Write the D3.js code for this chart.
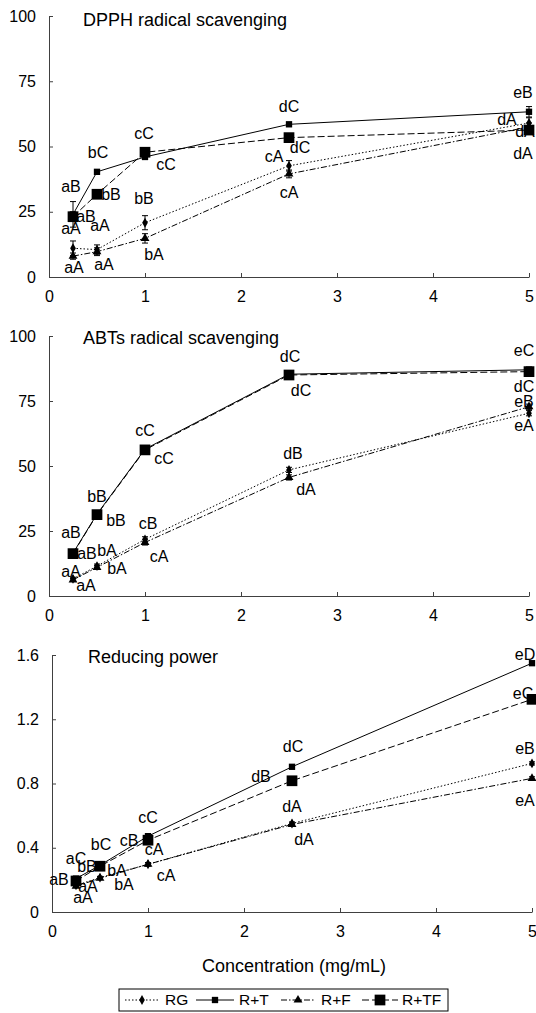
<!DOCTYPE html>
<html>
<head>
<meta charset="utf-8">
<script src="https://cdn.jsdelivr.net/npm/d3@7"></script>
<style>
  html, body { margin: 0; padding: 0; background: #fff; }
  svg text { font-family: "Liberation Sans", Arial, sans-serif; fill: #000; }
</style>
</head>
<body>
<div id="chart"></div>
<script>
// ---- data ----
const conc = [0.25, 0.5, 1, 2.5, 5];
const seriesNames = ["RG", "R+T", "R+F", "R+TF"];
const xTicks = [0, 1, 2, 3, 4, 5];

// DPPH radical scavenging (%)
const dpphRG  = [11, 10.5, 20.8, 42.6, 59];
const dpphRT  = [24, 40.3, 46, 58.5, 63.3];
const dpphRF  = [8, 9.7, 14.8, 39.5, 57.5];
const dpphRTF = [23.1, 31.7, 47.8, 53.4, 56.3];
const dpphErrRG  = [2.8, 1.8, 2.7, 2.0, 2.0];
const dpphErrRT  = [4.9, 0.8, 1.0, 0.8, 2.0];
const dpphErrRF  = [1.2, 1.5, 1.8, 1.5, 1.5];
const dpphErrRTF = [1.5, 1.0, 1.0, 1.0, 1.5];
const dpphLblRG  = ["aA", "aA", "bB", "cA", "dA"];
const dpphLblRT  = ["aB", "bC", "cC", "dC", "eB"];
const dpphLblRF  = ["aA", "aA", "bA", "cA", "dA"];
const dpphLblRTF = ["aB", "bB", "cC", "dC", "dA"];
const dpphTicks = [0, 25, 50, 75, 100];

// ABTs radical scavenging (%)
const abtsRG  = [6.6, 11.5, 21.8, 48.5, 70.3];
const abtsRT  = [16.5, 31.5, 56.5, 85.3, 87];
const abtsRF  = [6.2, 11, 20.6, 45.6, 72.8];
const abtsRTF = [16.3, 31.3, 56.2, 85, 86.3];
const abtsErrRG  = [0.6, 0.8, 1.0, 1.0, 1.0];
const abtsErrRT  = [0.6, 0.8, 0.8, 0.8, 1.0];
const abtsErrRF  = [0.6, 0.8, 1.0, 1.0, 1.0];
const abtsErrRTF = [0.6, 0.8, 0.8, 0.8, 1.0];
const abtsLblRG  = ["aA", "bA", "cB", "dB", "eA"];
const abtsLblRT  = ["aB", "bB", "cC", "dC", "eC"];
const abtsLblRF  = ["aA", "bA", "cA", "dA", "eB"];
const abtsLblRTF = ["aB", "bB", "cC", "dC", "dC"];
const abtsTicks = [0, 25, 50, 75, 100];

// Reducing power (absorbance)
const rpRG  = [0.166, 0.214, 0.297, 0.551, 0.925];
const rpRT  = [0.208, 0.291, 0.472, 0.904, 1.549];
const rpRF  = [0.16, 0.21, 0.297, 0.545, 0.832];
const rpRTF = [0.193, 0.285, 0.447, 0.817, 1.324];
const rpErrRG  = [0.008, 0.008, 0.01, 0.01, 0.01];
const rpErrRT  = [0.008, 0.008, 0.01, 0.01, 0.01];
const rpErrRF  = [0.008, 0.008, 0.01, 0.01, 0.01];
const rpErrRTF = [0.008, 0.008, 0.01, 0.01, 0.01];
const rpLblRG  = ["aA", "bA", "cA", "dA", "eB"];
const rpLblRT  = ["aC", "bC", "cC", "dC", "eD"];
const rpLblRF  = ["aA", "bA", "cA", "dA", "eA"];
const rpLblRTF = ["aB", "bB", "cB", "dB", "eC"];
const rpTicks = [0, 0.4, 0.8, 1.2, 1.6];

// ---- styles per series ----
const styles = {
  "RG":   { dash: "1.5,2",       symbol: d3.symbolDiamond,  size: 28 },
  "R+T":  { dash: null,          symbol: d3.symbolSquare,   size: 40 },
  "R+F":  { dash: "6,2,1.5,2",   symbol: d3.symbolTriangle, size: 34 },
  "R+TF": { dash: "7,3",         symbol: d3.symbolSquare,   size: 115 }
};
const drawOrder = ["R+TF", "R+F", "R+T", "RG"];

// label placement (pixel offsets from the point), per panel & series
const panels = [
  {
    title: "DPPH radical scavenging", titleX: 83, titleY: 20,
    left: 49, right: 529, top: 16, bottom: 277, max: 100, ticks: dpphTicks, fmt: d => d,
    vals: { "RG": dpphRG, "R+T": dpphRT, "R+F": dpphRF, "R+TF": dpphRTF },
    errs: { "RG": dpphErrRG, "R+T": dpphErrRT, "R+F": dpphErrRF, "R+TF": dpphErrRTF },
    lbls: { "RG": dpphLblRG, "R+T": dpphLblRT, "R+F": dpphLblRF, "R+TF": dpphLblRTF },
    offs: {
      "RG":   [[-2,-20],[3,-24],[-1,-24],[-15,-9],[-22,-4]],
      "R+T":  [[-2,-28],[1,-19],[21,7],[0,-18],[-6,-19]],
      "R+F":  [[1,11],[7,13],[9,16],[0,18],[-6,26]],
      "R+TF": [[13,0],[14,0],[-1,-19],[11,10],[-4,1]]
    }
  },
  {
    title: "ABTs radical scavenging", titleX: 83, titleY: 338,
    left: 49, right: 529, top: 336, bottom: 596, max: 100, ticks: abtsTicks, fmt: d => d,
    vals: { "RG": abtsRG, "R+T": abtsRT, "R+F": abtsRF, "R+TF": abtsRTF },
    errs: { "RG": abtsErrRG, "R+T": abtsErrRT, "R+F": abtsErrRF, "R+TF": abtsErrRTF },
    lbls: { "RG": abtsLblRG, "R+T": abtsLblRT, "R+F": abtsLblRF, "R+TF": abtsLblRTF },
    offs: {
      "RG":   [[-2,-7],[10,-16],[3,-16],[4,-17],[-5,12]],
      "R+T":  [[-2,-21],[0,-18],[0,-19],[1,-18],[-5,-19]],
      "R+F":  [[13,6],[20,1],[14,14],[17,12],[-5,-5]],
      "R+TF": [[14,0],[19,6],[19,9],[12,15],[-5,15]]
    }
  },
  {
    title: "Reducing power", titleX: 88, titleY: 657,
    left: 52, right: 532, top: 655, bottom: 912, max: 1.6, ticks: rpTicks, fmt: d3.format(".1~f"),
    vals: { "RG": rpRG, "R+T": rpRT, "R+F": rpRF, "R+TF": rpRTF },
    errs: { "RG": rpErrRG, "R+T": rpErrRT, "R+F": rpErrRF, "R+TF": rpErrRTF },
    lbls: { "RG": rpLblRG, "R+T": rpLblRT, "R+F": rpLblRF, "R+TF": rpLblRTF },
    offs: {
      "RG":   [[12,1],[17,-7],[6,-15],[0,-17],[-7,-15]],
      "R+T":  [[0,-20],[1,-21],[0,-19],[1,-20],[-7,-9]],
      "R+F":  [[7,11],[24,6],[18,11],[12,15],[-7,22]],
      "R+TF": [[-17,-2],[-13,0],[-19,0],[-31,-4],[-9,-6]]
    }
  }
];

const W = 536, H = 1013;
const FS_TICK = 16, FS_LBL = 16, FS_TITLE = 18, FS_LEG = 15.5;
const AXIS_COL = "#404040";

const svg = d3.select("#chart").append("svg").attr("width", W).attr("height", H);

panels.forEach(p => {
  const x = d3.scaleLinear().domain([0, 5]).range([p.left, p.right]);
  const y = d3.scaleLinear().domain([0, p.max]).range([p.bottom, p.top]);
  const g = svg.append("g");

  // axes (ticks point inward)
  const gx = g.append("g").attr("transform", `translate(0,${p.bottom})`)
    .call(d3.axisBottom(x).tickValues(xTicks).tickFormat(d3.format("d"))
      .tickSize(-4).tickSizeOuter(0).tickPadding(14));
  const gy = g.append("g").attr("transform", `translate(${p.left},0)`)
    .call(d3.axisLeft(y).tickValues(p.ticks).tickFormat(p.fmt)
      .tickSize(-4).tickSizeOuter(0).tickPadding(13));
  [gx, gy].forEach(a => {
    a.selectAll("path, line").attr("stroke", AXIS_COL);
    a.selectAll("text").attr("font-size", FS_TICK).attr("font-family", null).attr("fill", "#000");
  });

  g.append("text").attr("x", p.titleX).attr("y", p.titleY).attr("dy", "0.35em")
    .attr("font-size", FS_TITLE).text(p.title);

  // lines
  drawOrder.forEach(s => {
    const pts = conc.map((c, i) => [x(c), y(p.vals[s][i])]);
    g.append("path").attr("d", d3.line()(pts))
      .attr("fill", "none").attr("stroke", "#000").attr("stroke-width", 1)
      .attr("stroke-dasharray", styles[s].dash);
  });

  // error bars
  drawOrder.forEach(s => {
    conc.forEach((c, i) => {
      const v = p.vals[s][i], e = p.errs[s][i];
      const xc = x(c), y1 = y(v + e), y2 = y(v - e);
      g.append("line").attr("x1", xc).attr("x2", xc).attr("y1", y1).attr("y2", y2)
        .attr("stroke", "#000").attr("stroke-width", 1);
      [y1, y2].forEach(yy => g.append("line")
        .attr("x1", xc - 3).attr("x2", xc + 3).attr("y1", yy).attr("y2", yy)
        .attr("stroke", "#000").attr("stroke-width", 1));
    });
  });

  // significance letters
  seriesNames.forEach(s => {
    conc.forEach((c, i) => {
      const [dx, dy] = p.offs[s][i];
      g.append("text")
        .attr("x", x(c) + dx).attr("y", y(p.vals[s][i]) + dy).attr("dy", "0.35em")
        .attr("text-anchor", "middle").attr("font-size", FS_LBL)
        .text(p.lbls[s][i]);
    });
  });

  // markers
  drawOrder.forEach(s => {
    conc.forEach((c, i) => {
      g.append("path")
        .attr("d", d3.symbol().type(styles[s].symbol).size(styles[s].size)())
        .attr("transform", `translate(${x(c)},${y(p.vals[s][i])})`)
        .attr("fill", "#000");
    });
  });
});

// x axis title
svg.append("text").attr("x", 294).attr("y", 966).attr("dy", "0.35em")
  .attr("text-anchor", "middle").attr("font-size", FS_TITLE).text("Concentration (mg/mL)");

// legend
const legX = 119, legY = 989, legW = 329, legH = 22;
const leg = svg.append("g");
leg.append("rect").attr("x", legX).attr("y", legY).attr("width", legW).attr("height", legH)
  .attr("fill", "#fff").attr("stroke", "#000").attr("stroke-width", 1);
const legItems = [
  { s: "RG",   x0: 125, x1: 159, tx: 165 },
  { s: "R+T",  x0: 196, x1: 234, tx: 239 },
  { s: "R+F",  x0: 281, x1: 315, tx: 321 },
  { s: "R+TF", x0: 362, x1: 398, tx: 402 }
];
legItems.forEach(it => {
  const cy = legY + legH / 2;
  leg.append("line").attr("x1", it.x0).attr("x2", it.x1).attr("y1", cy).attr("y2", cy)
    .attr("stroke", "#000").attr("stroke-width", 1).attr("stroke-dasharray", styles[it.s].dash);
  leg.append("path").attr("d", d3.symbol().type(styles[it.s].symbol).size(styles[it.s].size)())
    .attr("transform", `translate(${(it.x0 + it.x1) / 2},${cy})`).attr("fill", "#000");
  leg.append("text").attr("x", it.tx).attr("y", cy).attr("dy", "0.35em")
    .attr("font-size", FS_LEG).text(it.s);
});
</script>
</body>
</html>
